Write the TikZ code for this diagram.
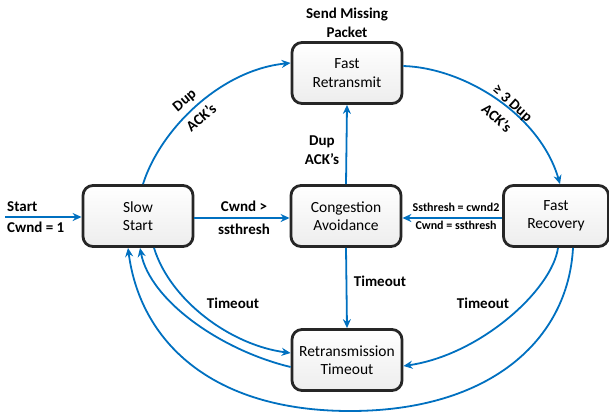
\documentclass[tikz,border=0pt]{standalone}
\usepackage{fontspec}
\setmainfont{Carlito}
\usetikzlibrary{arrows.meta,calc}
\definecolor{arrowblue}{RGB}{0,112,192}
\definecolor{boxborder}{RGB}{38,38,38}
\begin{document}
\begin{tikzpicture}[x=1pt,y=-1pt,
 state/.style={draw=boxborder, line width=2.8pt, rounded corners=10pt, minimum width=110pt, minimum height=61pt, top color=white, bottom color=gray!14, align=center, font=\fontsize{15.5}{18.5}\selectfont, inner sep=0pt},
 conn/.style={draw=arrowblue, line width=1.8pt, -{Stealth[length=9pt,width=8pt]}},
 lbl/.style={font=\bfseries\fontsize{15}{19}\selectfont, align=center, inner sep=0pt},
 small/.style={font=\bfseries\fontsize{12}{14}\selectfont, inner sep=0pt}]
\useasboundingbox (0,0) rectangle (609,415);
\node[state] (ss) at (138,216) {Slow\\Start};
\node[state] (ca) at (346,216) {Congestion\\Avoidance};
\node[state, minimum width=105pt] (fr) at (556,216) {Fast\\Recovery};
\node[state] (frt) at (347,73) {Fast\\Retransmit};
\node[state] (rt) at (347,360) {Retransmission\\Timeout};
\coordinate (st) at (5,217);
\draw[conn] (st) -- (st -| ss.west);
\draw[conn] ([yshift=-2pt]ss.east) -- ([yshift=-2pt]ca.west);
\draw[conn] ([yshift=-2pt]fr.west) -- ([yshift=-2pt]ca.east);
\draw[conn] (ca.north) -- (frt.south);
\draw[conn] (ca.south) -- (rt.north);
\draw[conn] ([xshift=5pt]ss.north) .. controls (160,130) and (220,70) .. ([yshift=10pt]frt.west);
\draw[conn] ([yshift=7pt]frt.east) .. controls (465,68) and (540,115) .. ([xshift=4pt]fr.north);
\draw[conn] ([xshift=16pt]ss.south) .. controls (170,300) and (230,345) .. ([yshift=7pt]rt.west);
\draw[conn] ([yshift=-7pt]rt.west) .. controls (220,350) and (150,300) .. ([xshift=2pt]ss.south);
\draw[conn] ([xshift=17pt]fr.south) .. controls (568,340) and (490,411) .. (350,411) .. controls (210,411) and (140,340) .. ([xshift=-10pt]ss.south);
\draw[conn] ([xshift=2pt]fr.south) .. controls (552,290) and (480,355) .. ([yshift=-6pt]rt.east);
\node[lbl, anchor=west] (lstart) at (7,207) {Start};
\node[lbl, anchor=west] (lcwnd) at (7,227) {Cwnd = 1};
\node[lbl] (lc1) at (244,206) {Cwnd >};
\node[lbl] (lc2) at (244,229) {ssthresh};
\node[small] (ls1) at (456,207) {Ssthresh = cwnd2};
\node[small] (ls2) at (456,225) {Cwnd = ssthresh};
\node[lbl] (ldup) at (322,150) {Dup\\ACK’s};
\node[lbl] (lt1) at (380,281) {Timeout};
\node[lbl] (lt2) at (233,303) {Timeout};
\node[lbl] (lt3) at (483,303) {Timeout};
\node[lbl] (lsend) at (347,23) {Send Missing\\Packet};
\node[lbl, rotate=40] (ldupa) at (185,101) {Dup};
\node[lbl, rotate=40] (ldupb) at (201,117) {ACK’s};
\node[lbl, rotate=-42] (lgea) at (512,104) {≥ 3 Dup};
\node[lbl, rotate=-42] (lgeb) at (497,118) {ACK’s};
\end{tikzpicture}
\end{document}
